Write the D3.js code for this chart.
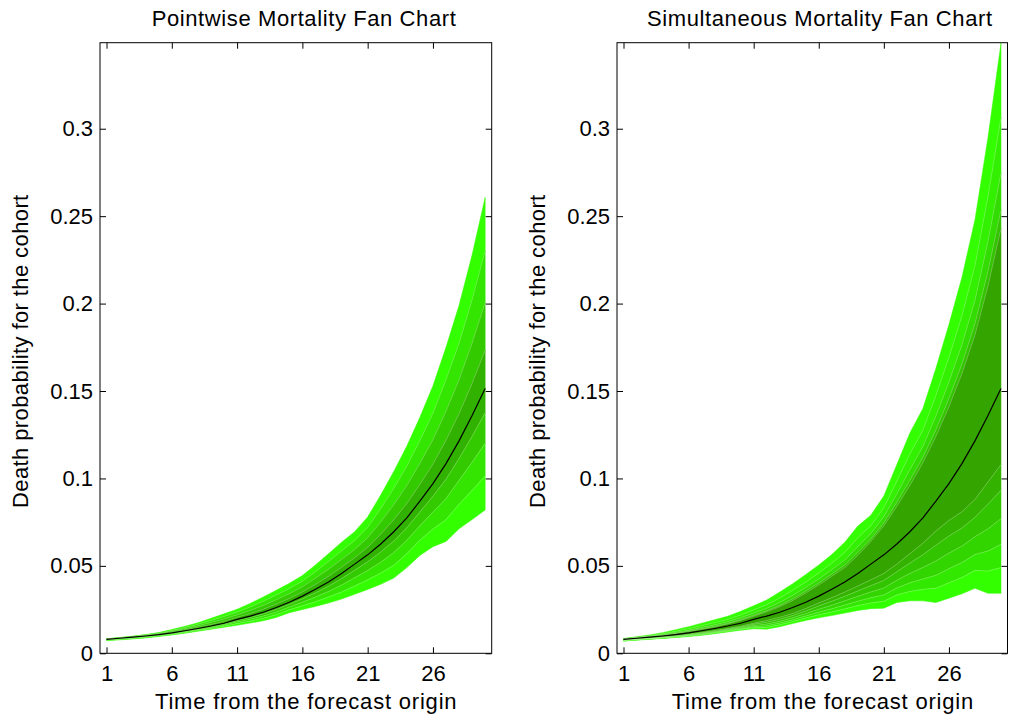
<!DOCTYPE html>
<html>
<head>
<meta charset="utf-8">
<script src="https://cdn.jsdelivr.net/npm/d3@7"></script>
<style>
  body { margin: 0; background: #fff; }
  text { font-family: "Liberation Sans", Arial, sans-serif; fill: #000; }
</style>
</head>
<body>
<svg id="chart" width="1014" height="720"></svg>
<script>
// forecast horizon
const timeSteps = [1, 2, 3, 4, 5, 6, 7, 8, 9, 10, 11, 12, 13, 14, 15, 16, 17, 18, 19, 20, 21, 22, 23, 24, 25, 26, 27, 28, 29, 30];
const xTicks = [1, 6, 11, 16, 21, 26];
const yTicks = [0, 0.05, 0.1, 0.15, 0.2, 0.25, 0.3];
const yTickLabels = ['0', '0.05', '0.1', '0.15', '0.2', '0.25', '0.3'];

// central projection (same in both panels)
const median = [0.0080, 0.0086, 0.0092, 0.0099, 0.0107, 0.0117, 0.0129, 0.0142, 0.0156, 0.0172, 0.0194, 0.0213, 0.0235, 0.0262, 0.0292, 0.0327, 0.0366, 0.0408, 0.0456, 0.0510, 0.0563, 0.0625, 0.0695, 0.0775, 0.0870, 0.0970, 0.1085, 0.1215, 0.1360, 0.1515];

// pointwise fan, outer -> inner
const pwUpper = [0.0083, 0.0090, 0.0098, 0.0107, 0.0119, 0.0136, 0.0154, 0.0175, 0.0200, 0.0226, 0.0252, 0.0285, 0.0322, 0.0360, 0.0400, 0.0445, 0.0505, 0.0570, 0.0635, 0.0695, 0.0780, 0.0905, 0.1040, 0.1185, 0.1350, 0.1530, 0.1750, 0.1990, 0.2280, 0.2608];
const pwUpperA = [0.0082, 0.0089, 0.0096, 0.0105, 0.0116, 0.0131, 0.0147, 0.0166, 0.0188, 0.0211, 0.0236, 0.0265, 0.0298, 0.0333, 0.0370, 0.0412, 0.0466, 0.0525, 0.0585, 0.0643, 0.0719, 0.0827, 0.0943, 0.1070, 0.1216, 0.1373, 0.1564, 0.1773, 0.2022, 0.2302];
const pwUpperB = [0.0081, 0.0088, 0.0095, 0.0103, 0.0112, 0.0126, 0.0140, 0.0157, 0.0176, 0.0196, 0.0220, 0.0245, 0.0274, 0.0306, 0.0341, 0.0380, 0.0429, 0.0481, 0.0537, 0.0593, 0.0661, 0.0751, 0.0850, 0.0960, 0.1086, 0.1222, 0.1384, 0.1564, 0.1774, 0.2007];
const pwUpperC = [0.0081, 0.0087, 0.0093, 0.0101, 0.0109, 0.0121, 0.0134, 0.0149, 0.0165, 0.0183, 0.0206, 0.0227, 0.0252, 0.0282, 0.0314, 0.0351, 0.0394, 0.0440, 0.0492, 0.0547, 0.0606, 0.0681, 0.0764, 0.0857, 0.0966, 0.1082, 0.1218, 0.1370, 0.1544, 0.1734];
const pwLowerC = [0.0078, 0.0084, 0.0090, 0.0097, 0.0105, 0.0115, 0.0126, 0.0139, 0.0152, 0.0167, 0.0187, 0.0205, 0.0225, 0.0251, 0.0280, 0.0312, 0.0346, 0.0384, 0.0427, 0.0475, 0.0523, 0.0579, 0.0642, 0.0718, 0.0808, 0.0898, 0.0996, 0.1114, 0.1241, 0.1376];
const pwLowerB = [0.0076, 0.0082, 0.0087, 0.0094, 0.0102, 0.0112, 0.0123, 0.0135, 0.0147, 0.0162, 0.0179, 0.0195, 0.0213, 0.0236, 0.0265, 0.0292, 0.0322, 0.0354, 0.0390, 0.0432, 0.0474, 0.0521, 0.0576, 0.0647, 0.0730, 0.0808, 0.0885, 0.0989, 0.1092, 0.1202];
const pwLowerA = [0.0074, 0.0080, 0.0085, 0.0091, 0.0099, 0.0108, 0.0119, 0.0130, 0.0142, 0.0155, 0.0170, 0.0184, 0.0200, 0.0221, 0.0249, 0.0272, 0.0295, 0.0322, 0.0351, 0.0385, 0.0420, 0.0459, 0.0504, 0.0570, 0.0647, 0.0711, 0.0765, 0.0853, 0.0932, 0.1015];
const pwLower = [0.0072, 0.0077, 0.0082, 0.0088, 0.0096, 0.0105, 0.0115, 0.0126, 0.0137, 0.0149, 0.0160, 0.0173, 0.0186, 0.0205, 0.0232, 0.0250, 0.0268, 0.0288, 0.0310, 0.0337, 0.0365, 0.0395, 0.0430, 0.0490, 0.0560, 0.0610, 0.0640, 0.0712, 0.0765, 0.0820];

// simultaneous fan, outer -> inner
const simUpper = [0.0085, 0.0094, 0.0105, 0.0118, 0.0135, 0.0152, 0.0172, 0.0192, 0.0212, 0.0240, 0.0272, 0.0305, 0.0350, 0.0398, 0.0450, 0.0505, 0.0565, 0.0635, 0.0728, 0.0790, 0.0900, 0.1080, 0.1260, 0.1400, 0.1630, 0.1880, 0.2150, 0.2480, 0.2950, 0.3490];
const simUpperA = [0.0083, 0.0092, 0.0101, 0.0112, 0.0126, 0.0141, 0.0158, 0.0176, 0.0194, 0.0219, 0.0248, 0.0278, 0.0316, 0.0360, 0.0408, 0.0459, 0.0515, 0.0577, 0.0661, 0.0730, 0.0832, 0.0984, 0.1140, 0.1276, 0.1474, 0.1692, 0.1930, 0.2216, 0.2610, 0.3066];
const simUpperB = [0.0082, 0.0090, 0.0098, 0.0108, 0.0120, 0.0132, 0.0148, 0.0163, 0.0181, 0.0204, 0.0230, 0.0257, 0.0291, 0.0331, 0.0377, 0.0425, 0.0478, 0.0534, 0.0610, 0.0685, 0.0781, 0.0912, 0.1050, 0.1183, 0.1357, 0.1551, 0.1765, 0.2018, 0.2355, 0.2748];
const simUpperC = [0.0081, 0.0089, 0.0096, 0.0105, 0.0115, 0.0127, 0.0141, 0.0155, 0.0172, 0.0193, 0.0218, 0.0244, 0.0274, 0.0312, 0.0356, 0.0402, 0.0453, 0.0505, 0.0577, 0.0655, 0.0747, 0.0864, 0.0990, 0.1121, 0.1279, 0.1457, 0.1655, 0.1886, 0.2185, 0.2536];
const simDarkUpper = [0.0081, 0.0088, 0.0095, 0.0103, 0.0113, 0.0124, 0.0137, 0.0151, 0.0168, 0.0188, 0.0212, 0.0237, 0.0266, 0.0302, 0.0345, 0.0390, 0.0440, 0.0490, 0.0560, 0.0640, 0.0730, 0.0840, 0.0960, 0.1090, 0.1240, 0.1410, 0.1600, 0.1820, 0.2100, 0.2430];
const simDarkLower = [0.0077, 0.0083, 0.0088, 0.0094, 0.0101, 0.0109, 0.0119, 0.0130, 0.0142, 0.0155, 0.0172, 0.0188, 0.0206, 0.0228, 0.0256, 0.0288, 0.0318, 0.0350, 0.0385, 0.0420, 0.0457, 0.0510, 0.0570, 0.0630, 0.0700, 0.0760, 0.0810, 0.0880, 0.0980, 0.1080];
const simLowerA = [0.0076, 0.0081, 0.0086, 0.0092, 0.0099, 0.0106, 0.0116, 0.0126, 0.0138, 0.0150, 0.0166, 0.0178, 0.0195, 0.0216, 0.0242, 0.0271, 0.0298, 0.0326, 0.0357, 0.0387, 0.0417, 0.0466, 0.0516, 0.0564, 0.0618, 0.0671, 0.0716, 0.0778, 0.0853, 0.0933];
const simLowerB = [0.0074, 0.0080, 0.0085, 0.0090, 0.0096, 0.0104, 0.0112, 0.0122, 0.0134, 0.0145, 0.0159, 0.0167, 0.0183, 0.0204, 0.0227, 0.0252, 0.0275, 0.0300, 0.0326, 0.0351, 0.0373, 0.0418, 0.0457, 0.0491, 0.0528, 0.0573, 0.0613, 0.0667, 0.0712, 0.0770];
const simLowerC = [0.0073, 0.0078, 0.0083, 0.0088, 0.0094, 0.0101, 0.0109, 0.0119, 0.0130, 0.0141, 0.0152, 0.0157, 0.0173, 0.0192, 0.0214, 0.0235, 0.0255, 0.0276, 0.0298, 0.0318, 0.0334, 0.0374, 0.0403, 0.0425, 0.0446, 0.0484, 0.0519, 0.0565, 0.0585, 0.0623];
const simLowerD = [0.0071, 0.0077, 0.0082, 0.0087, 0.0092, 0.0099, 0.0106, 0.0116, 0.0126, 0.0137, 0.0146, 0.0148, 0.0163, 0.0182, 0.0202, 0.0220, 0.0236, 0.0254, 0.0273, 0.0288, 0.0298, 0.0334, 0.0354, 0.0366, 0.0372, 0.0404, 0.0434, 0.0474, 0.0470, 0.0490];
const simLower = [0.0070, 0.0075, 0.0080, 0.0085, 0.0090, 0.0096, 0.0103, 0.0112, 0.0122, 0.0132, 0.0140, 0.0138, 0.0152, 0.0170, 0.0188, 0.0203, 0.0216, 0.0230, 0.0245, 0.0255, 0.0258, 0.0290, 0.0300, 0.0300, 0.0290, 0.0315, 0.0340, 0.0372, 0.0343, 0.0343];

const yMax = 0.3492;
const plotTop = 42.7;
const plotBottom = 653.3;

const panels = [
  {
    title: 'Pointwise Mortality Fan Chart',
    left: 100,
    right: 491.7,
    titleX: 151.7,
    xLabelX: 155,
    yLabelX: 28.3,
    curves: [pwUpper, pwUpperA, pwUpperB, pwUpperC, median, pwLowerC, pwLowerB, pwLowerA, pwLower],
    colors: ['#33ff00', '#33e500', '#33cb00', '#32b200', '#32b200', '#33cb00', '#33e500', '#33ff00'],
  },
  {
    title: 'Simultaneous Mortality Fan Chart',
    left: 617,
    right: 1007.5,
    titleX: 647,
    xLabelX: 671.7,
    yLabelX: 545.3,
    curves: [simUpper, simUpperA, simUpperB, simUpperC, simDarkUpper, simDarkLower, simLowerA, simLowerB, simLowerC, simLowerD, simLower],
    colors: ['#33ff00', '#33f000', '#33dc00', '#33c400', '#34a400', '#33b300', '#33c400', '#33d500', '#33e800', '#33ff00'],
  },
];

const svg = d3.select('#chart');
panels.forEach(drawPanel);

function drawPanel(p) {
  const x = d3.scaleLinear().domain([0.5, 30.5]).range([p.left, p.right]);
  const y = d3.scaleLinear().domain([0, yMax]).range([plotBottom, plotTop]);
  const g = svg.append('g');

  const line = d3
    .line()
    .x((d, i) => x(timeSteps[i]))
    .y((d) => y(d));

  // bands between neighbouring quantile curves
  for (let i = 0; i < p.curves.length - 1; i++) {
    const hi = p.curves[i];
    const lo = p.curves[i + 1];
    const area = d3
      .area()
      .x((d, j) => x(timeSteps[j]))
      .y0((d, j) => y(lo[j]))
      .y1((d, j) => y(hi[j]));
    g.append('path')
      .datum(hi)
      .attr('d', area)
      .attr('fill', p.colors[i])
      .attr('stroke', p.colors[i])
      .attr('stroke-width', 0.5)
      .attr('stroke-linejoin', 'round');
  }

  // faint patch edges
  p.curves.slice(1, -1).forEach((c) => {
    if (c === median) return;
    g.append('path')
      .datum(c)
      .attr('d', line)
      .attr('fill', 'none')
      .attr('stroke', 'rgba(255,255,255,0.35)')
      .attr('stroke-width', 0.6);
  });

  g.append('path')
    .datum(median)
    .attr('d', line)
    .attr('fill', 'none')
    .attr('stroke', '#000')
    .attr('stroke-width', 1.2);

  // axes, ticks pointing inward on all four sides
  const fontStyle = (sel) =>
    sel
      .attr('font-family', '"Liberation Sans", Arial, sans-serif')
      .attr('font-size', 22);

  g.append('g')
    .attr('transform', `translate(0,${plotBottom})`)
    .call(d3.axisBottom(x).tickValues(xTicks).tickSize(-6).tickPadding(12).tickFormat(d3.format('d')))
    .call(fontStyle);
  g.append('g')
    .attr('transform', `translate(0,${plotTop})`)
    .call(d3.axisTop(x).tickValues(xTicks).tickSize(-6).tickFormat(''));
  g.append('g')
    .attr('transform', `translate(${p.left},0)`)
    .call(d3.axisLeft(y).tickValues(yTicks).tickSize(-6).tickPadding(7).tickFormat((d, i) => yTickLabels[i]))
    .call(fontStyle);
  g.append('g')
    .attr('transform', `translate(${p.right},0)`)
    .call(d3.axisRight(y).tickValues(yTicks).tickSize(-6).tickFormat(''));

  g.selectAll('.domain').remove();
  g.selectAll('.tick line').attr('stroke', '#000');
  g.selectAll('.tick text').attr('fill', '#000');

  g.append('rect')
    .attr('x', p.left)
    .attr('y', plotTop)
    .attr('width', p.right - p.left)
    .attr('height', plotBottom - plotTop)
    .attr('fill', 'none')
    .attr('stroke', '#000')
    .attr('stroke-width', 1);

  g.append('text')
    .attr('x', p.titleX)
    .attr('y', 26)
    .attr('font-size', 22)
    .attr('letter-spacing', 0.6)
    .text(p.title);

  g.append('text')
    .attr('x', p.xLabelX)
    .attr('y', 709)
    .attr('font-size', 22)
    .attr('letter-spacing', 0.8)
    .text('Time from the forecast origin');

  g.append('text')
    .attr('transform', `translate(${p.yLabelX},508) rotate(-90)`)
    .attr('font-size', 22)
    .attr('letter-spacing', 0.4)
    .text('Death probability for the cohort');
}
</script>
</body>
</html>
